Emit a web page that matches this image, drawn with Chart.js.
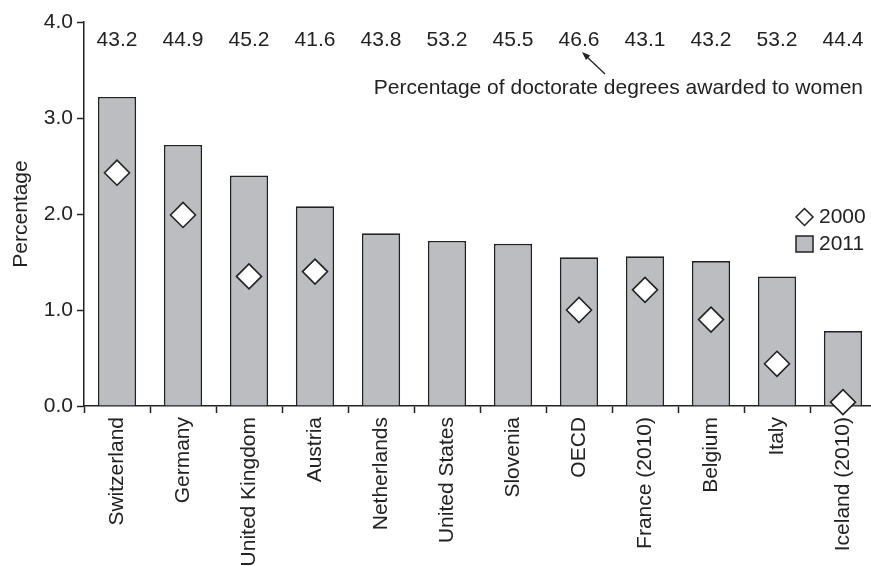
<!DOCTYPE html>
<html>
<head>
<meta charset="utf-8">
<script src="https://cdn.jsdelivr.net/npm/chart.js@4.4.0/dist/chart.umd.min.js"></script>
<style>
  html, body { margin: 0; padding: 0; background: #fff; overflow: hidden; }
</style>
</head>
<body>
<canvas id="chart" width="876" height="566"></canvas>
<script>
// categories and values
const countries = ["Switzerland", "Germany", "United Kingdom", "Austria", "Netherlands", "United States",
    "Slovenia", "OECD", "France (2010)", "Belgium", "Italy", "Iceland (2010)"];
const values2011 = [3.22, 2.72, 2.40, 2.08, 1.80, 1.72, 1.69, 1.55, 1.56, 1.51, 1.35, 0.78];
const values2000 = [2.43, 1.99, 1.35, 1.40, null, null, null, 1.00, 1.21, 0.90, 0.44, 0.04];
const womenShare = ["43.2", "44.9", "45.2", "41.6", "43.8", "53.2", "45.5", "46.6", "43.1", "43.2", "53.2", "44.4"];
const yTicks = [0, 1, 2, 3, 4];

const INK = "#222";
const FONT = "'Liberation Sans', Arial, sans-serif";
const FS = 21;

// top numbers, arrow note and the little legend are drawn by hand
const extras = {
    id: "extras",
    afterDraw(chart) {
        const {ctx, scales: {x}} = chart;
        ctx.save();
        ctx.fillStyle = INK;
        ctx.font = FS + "px " + FONT;
        ctx.textAlign = "center";
        ctx.textBaseline = "middle";
        womenShare.forEach((v, i) => {
            ctx.fillText(v, x.getPixelForValue(i), 40);
        });

        ctx.textAlign = "right";
        ctx.fillText("Percentage of doctorate degrees awarded to women", 863, 88);

        // arrow pointing at the OECD number
        const tipX = x.getPixelForValue(7) + 3, tipY = 52;
        const tailX = tipX + 23, tailY = 74;
        ctx.strokeStyle = INK;
        ctx.lineWidth = 1.3;
        ctx.beginPath();
        ctx.moveTo(tailX, tailY);
        ctx.lineTo(tipX + 4, tipY + 4);
        ctx.stroke();
        const ang = Math.atan2(tipY - tailY, tipX - tailX);
        ctx.beginPath();
        ctx.moveTo(tipX, tipY);
        ctx.lineTo(tipX - 9 * Math.cos(ang - 0.35), tipY - 9 * Math.sin(ang - 0.35));
        ctx.lineTo(tipX - 9 * Math.cos(ang + 0.35), tipY - 9 * Math.sin(ang + 0.35));
        ctx.closePath();
        ctx.fill();

        // legend
        const lx = 804.5;
        ctx.lineWidth = 1.5;
        ctx.fillStyle = "#fff";
        ctx.beginPath();
        ctx.moveTo(lx, 208.5);
        ctx.lineTo(lx + 8.5, 217);
        ctx.lineTo(lx, 225.5);
        ctx.lineTo(lx - 8.5, 217);
        ctx.closePath();
        ctx.fill();
        ctx.stroke();
        ctx.fillStyle = "#bcbdc0";
        ctx.fillRect(796, 236, 17, 16);
        ctx.strokeRect(796, 236, 17, 16);
        ctx.fillStyle = INK;
        ctx.textAlign = "left";
        ctx.fillText("2000", 819, 217);
        ctx.fillText("2011", 819, 244);
        ctx.restore();
    }
};

new Chart(document.getElementById("chart"), {
    type: "bar",
    data: {
        labels: countries,
        datasets: [
            {
                type: "line",
                label: "2000",
                data: values2000,
                showLine: false,
                pointStyle: "rectRot",
                pointRadius: 12.5,
                pointBackgroundColor: "#fff",
                pointBorderColor: INK,
                pointBorderWidth: 1.6,
                clip: false,
                order: 0
            },
            {
                label: "2011",
                data: values2011,
                backgroundColor: "#bcbdc0",
                borderColor: "#222",
                borderWidth: 1.7,
                barPercentage: 0.58,
                categoryPercentage: 1,
                order: 1
            }
        ]
    },
    options: {
        responsive: false,
        animation: false,
        layout: {autoPadding: false, padding: {left: 0, top: 22, right: 0, bottom: 0}},
        plugins: {
            legend: {display: false},
            tooltip: {enabled: false}
        },
        scales: {
            x: {
                offset: true,
                grid: {
                    display: true,
                    offset: true,
                    drawOnChartArea: false,
                    drawTicks: true,
                    tickLength: 7,
                    tickWidth: 1.5,
                    color: INK
                },
                border: {display: true, color: INK, width: 1.5},
                ticks: {
                    color: INK,
                    font: {family: FONT, size: FS},
                    minRotation: 90,
                    maxRotation: 90,
                    autoSkip: false,
                    padding: 4
                },
                afterFit(scale) {
                    scale.height = 160;
                    scale.paddingLeft = 0;
                    scale.paddingRight = 0;
                }
            },
            y: {
                min: 0,
                max: 4,
                afterBuildTicks(scale) { scale.ticks = yTicks.map(v => ({value: v})); },
                grid: {
                    display: true,
                    drawOnChartArea: false,
                    drawTicks: true,
                    tickLength: 7,
                    tickWidth: 1.5,
                    color: INK
                },
                border: {display: true, color: INK, width: 1.5},
                ticks: {
                    color: INK,
                    font: {family: FONT, size: FS},
                    padding: 4,
                    callback: v => v.toFixed(1)
                },
                title: {
                    display: true,
                    text: "Percentage",
                    color: INK,
                    font: {family: FONT, size: FS},
                    padding: {top: 9, bottom: 0}
                },
                afterFit(scale) { scale.width = 84; }
            }
        }
    },
    plugins: [extras]
});
</script>
</body>
</html>
